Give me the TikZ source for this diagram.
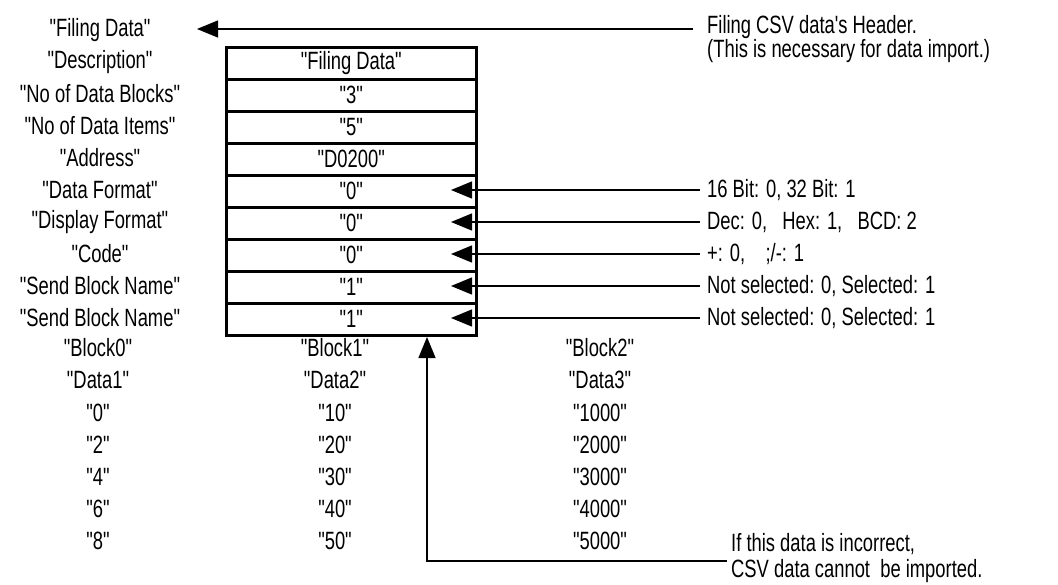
\documentclass[tikz,border=0pt]{standalone}
\usepackage{fontspec}
\setmainfont[FakeStretch=0.735,Ligatures=TeXOff]{Liberation Sans}
\usetikzlibrary{arrows.meta}
\begin{document}
\begin{tikzpicture}[x=1pt,y=-1pt,
  every node/.style={font=\fontsize{25}{29}\selectfont, inner sep=0pt},
  lbl/.style={anchor=center},
  note/.style={anchor=west},
  note2/.style={anchor=west, align=left, font=\fontsize{25}{21}\selectfont},
  cell/.style={draw, line width=2.6pt, minimum width=250pt, minimum height=32pt, anchor=north west},
  ptr/.style={line width=1.3pt, -{Triangle[length=21pt,width=17pt]}}]
\useasboundingbox (0,0) rectangle (1058,584);
% left labels
\node[lbl] (l0) at (100,30) {"Filing Data"};
\node[lbl] (l1) at (100,62) {"Description"};
\node[lbl] (l2) at (100,94) {"No of Data Blocks"};
\node[lbl] (l3) at (100,126) {"No of Data Items"};
\node[lbl] (l4) at (100,158) {"Address"};
\node[lbl] (l5) at (100,190) {"Data Format"};
\node[lbl] (l6) at (100,222) {"Display Format"};
\node[lbl] (l7) at (100,254) {"Code"};
\node[lbl] (l8) at (100,286) {"Send Block Name"};
\node[lbl] (l9) at (100,318) {"Send Block Name"};
% table cells
\node[cell] (c1) at (225,46) {"Filing Data"};
\node[cell] (c2) at (225,78) {"3"};
\node[cell] (c3) at (225,110) {"5"};
\node[cell] (c4) at (225,142) {"D0200"};
\node[cell] (c5) at (225,174) {"0"};
\node[cell] (c6) at (225,206) {"0"};
\node[cell] (c7) at (225,238) {"0"};
\node[cell] (c8) at (225,270) {"1"};
\node[cell] (c9) at (225,302) {"1"};
% notes
\node[note2] (n0) at (707,39) {Filing CSV data's Header.\\(This is necessary for data import.)};
\node[note] (n5) at (707,190) {16 Bit: 0, 32 Bit: 1};
\node[note] (n6) at (707,222) {Dec: 0,\ \ \ Hex: 1,\ \ \ BCD: 2};
\node[note] (n7) at (707,254) {+: 0,\ \ \ \ ;/-: 1};
\node[note] (n8) at (707,286) {Not selected: 0, Selected: 1};
\node[note] (n9) at (707,318) {Not selected: 0, Selected: 1};
% arrow ends
\coordinate (s0) at (693,29);
\coordinate (t0) at (197,29);
\coordinate (s5) at (700,190); \coordinate (t5) at (451,190);
\coordinate (s6) at (700,222); \coordinate (t6) at (451,222);
\coordinate (s7) at (700,254); \coordinate (t7) at (451,254);
\coordinate (s8) at (700,286); \coordinate (t8) at (451,286);
\coordinate (s9) at (700,318); \coordinate (t9) at (451,318);
\draw[ptr] (s0) -- (t0);
\foreach \i in {5,...,9}{
  \draw[ptr] (s\i) -- (t\i);
}
% blocks
\node[lbl] (b00) at (98,348) {"Block0"};
\node[lbl] (b01) at (98,380) {"Data1"};
\node[lbl] (b02) at (98,413) {"0"};
\node[lbl] (b03) at (98,445) {"2"};
\node[lbl] (b04) at (98,477) {"4"};
\node[lbl] (b05) at (98,509) {"6"};
\node[lbl] (b06) at (98,541) {"8"};
\node[lbl] (b10) at (335,348) {"Block1"};
\node[lbl] (b11) at (335,380) {"Data2"};
\node[lbl] (b12) at (335,413) {"10"};
\node[lbl] (b13) at (335,445) {"20"};
\node[lbl] (b14) at (335,477) {"30"};
\node[lbl] (b15) at (335,509) {"40"};
\node[lbl] (b16) at (335,541) {"50"};
\node[lbl] (b20) at (600,348) {"Block2"};
\node[lbl] (b21) at (600,380) {"Data3"};
\node[lbl] (b22) at (600,413) {"1000"};
\node[lbl] (b23) at (600,445) {"2000"};
\node[lbl] (b24) at (600,477) {"3000"};
\node[lbl] (b25) at (600,509) {"4000"};
\node[lbl] (b26) at (600,541) {"5000"};
\node[note2, font=\fontsize{25}{26}\selectfont] (nb) at (731,558) {If this data is incorrect,\\CSV data cannot\ \ be imported.};
\coordinate (vs) at (727,561);
\coordinate (vb) at (427,561);
\coordinate (vt) at (427,337);
\draw[ptr] (vs) -- (vb) -- (vt);
\end{tikzpicture}
\end{document}
